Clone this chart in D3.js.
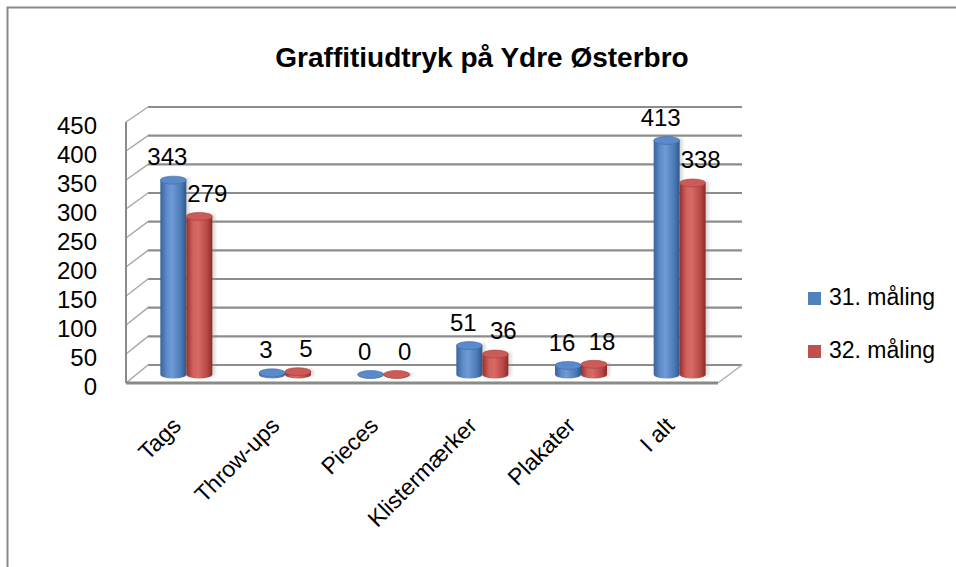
<!DOCTYPE html>
<html>
<head>
<meta charset="utf-8">
<script src="https://cdn.jsdelivr.net/npm/d3@7"></script>
<style>
  body { margin: 0; background: #fff; }
  svg { display: block; font-family: "Liberation Sans", Arial, sans-serif; }
</style>
</head>
<body>
<svg id="chart"></svg>
<script>
// data
const categories = ["Tags", "Throw-ups", "Pieces", "Klistermærker", "Plakater", "I alt"];
const seriesNames = ["31. måling", "32. måling"];
const values31 = [343, 3, 0, 51, 16, 413];
const values32 = [279, 5, 0, 36, 18, 338];
const yTicks = [0, 50, 100, 150, 200, 250, 300, 350, 400, 450];
const colors = ["#4f81bd", "#c0504d"];

const W = 956, H = 567;
const svg = d3.select("#chart").attr("width", W).attr("height", H);

// chart frame (only left and top are visible)
svg.append("path")
  .attr("d", `M7.5,${H} V7.5 H${W}`)
  .attr("fill", "none").attr("stroke", "#8a8a8a").attr("stroke-width", 2);

// 3d box: front plane, back plane and a mid plane for the bars
const depth = { dx: 22, dy: -18 };
const front = { left: 126, right: 718 };
const yFront = d3.scaleLinear().domain([0, 450]).range([383, 122]);
const yBack = d3.scaleLinear().domain([0, 450]).range([365, 107]);
const yBar = d3.scaleLinear().domain([0, 450]).range([374.5, 119.5]);

const x = d3.scaleBand().domain(categories).range([front.left, front.right]);
const xSeries = d3.scaleBand().domain(seriesNames).range([-26, 26]);

// back wall gridlines
svg.append("g").selectAll("line")
  .data(yTicks).enter().append("line")
  .attr("x1", front.left + depth.dx).attr("x2", front.right + depth.dx + 2)
  .attr("y1", d => yBack(d)).attr("y2", d => yBack(d))
  .attr("stroke", "#8c8c8c").attr("stroke-width", 2.2);

// side wall ticks
svg.append("g").selectAll("line")
  .data(yTicks).enter().append("line")
  .attr("x1", front.left).attr("y1", d => yFront(d))
  .attr("x2", front.left + depth.dx).attr("y2", d => yBack(d))
  .attr("stroke", "#a8a8a8").attr("stroke-width", 1.5);

// front vertical edge
svg.append("line")
  .attr("x1", front.left).attr("x2", front.left)
  .attr("y1", yFront(450)).attr("y2", yFront(0))
  .attr("stroke", "#8a8a8a").attr("stroke-width", 2);

// floor right edge + front edge
svg.append("line")
  .attr("x1", front.right).attr("y1", yFront(0))
  .attr("x2", front.right + depth.dx + 2).attr("y2", yBack(0))
  .attr("stroke", "#b0b0b0").attr("stroke-width", 1.5);
svg.append("line")
  .attr("x1", front.left).attr("x2", front.right)
  .attr("y1", yFront(0)).attr("y2", yFront(0))
  .attr("stroke", "#8a8a8a").attr("stroke-width", 3);

// y axis labels
const yAxis = d3.axisLeft(yFront).tickValues(yTicks).tickSize(0).tickPadding(0);
const gy = svg.append("g").attr("transform", "translate(97,4)").call(yAxis);
gy.select(".domain").remove();
gy.selectAll("text").attr("font-size", 24).attr("fill", "#000")
  .attr("font-family", "Liberation Sans, Arial, sans-serif");

// gradients for the cylinders
const defs = svg.append("defs");
const gradStops = [
  ["#3a6399", "#5d8dcb", "#6d9bd6", "#4a79b5", "#2f5788"],
  ["#94302e", "#d0605c", "#d86b67", "#b84845", "#8a2b29"]
];
gradStops.forEach((stops, i) => {
  const g = defs.append("linearGradient").attr("id", "cyl" + i)
    .attr("x1", "0%").attr("x2", "100%").attr("y1", "0%").attr("y2", "0%");
  [0, 25, 45, 80, 100].forEach((o, j) => g.append("stop").attr("offset", o + "%").attr("stop-color", stops[j]));
});
defs.append("filter").attr("id", "blur").append("feGaussianBlur").attr("stdDeviation", 1.5);

const rows = categories.map((c, i) => ({ cat: c, vals: [values31[i], values32[i]] }));
const bars = [];
rows.forEach(r => r.vals.forEach((v, s) => bars.push({ cat: r.cat, s, v })));

const bw = xSeries.bandwidth();
const ry = 4;
const barG = svg.append("g");
const cyl = barG.selectAll(".cyl").data(bars).enter().append("g").attr("class", "cyl");

const cx = d => x(d.cat) + x.bandwidth() / 2 + depth.dx / 2 + xSeries(seriesNames[d.s]) + bw / 2;

// soft shadow
cyl.append("rect")
  .attr("x", d => cx(d) - bw / 2 + 3)
  .attr("y", d => yBar(d.v) - 2)
  .attr("width", bw)
  .attr("height", d => yBar(0) - yBar(d.v) + 4)
  .attr("fill", "#999").attr("opacity", 0.35).attr("filter", "url(#blur)");

// body with rounded bottom
cyl.append("path")
  .attr("d", d => {
    const l = cx(d) - bw / 2, r = cx(d) + bw / 2;
    const t = yBar(d.v), b = yBar(0);
    return `M${l},${t} L${l},${b} A${bw / 2},${ry} 0 0 0 ${r},${b} L${r},${t} Z`;
  })
  .attr("fill", d => `url(#cyl${d.s})`);

// top cap
cyl.append("ellipse")
  .attr("cx", cx)
  .attr("cy", d => yBar(d.v))
  .attr("rx", bw / 2).attr("ry", ry)
  .attr("fill", d => d.s === 0 ? "#5a8acb" : "#cc5a56")
  .attr("stroke", d => d.s === 0 ? "#3f6aa3" : "#a33f3c").attr("stroke-width", 0.6);

// data labels
svg.append("g").selectAll("text")
  .data(bars).enter().append("text")
  .attr("x", d => cx(d) + (d.s === 0 ? -6 : 8))
  .attr("y", d => yBar(d.v) - 21)
  .attr("text-anchor", "middle")
  .attr("dominant-baseline", "middle")
  .attr("font-size", 24)
  .text(d => d.v);

// category labels
svg.append("g").selectAll("text")
  .data(categories).enter().append("text")
  .attr("transform", d => `translate(${x(d) + x.bandwidth() / 2 + 7},427) rotate(-45)`)
  .attr("text-anchor", "end")
  .attr("font-size", 23)
  .text(d => d);

// title
svg.append("text")
  .attr("x", 482).attr("y", 67)
  .attr("text-anchor", "middle")
  .attr("font-weight", "bold")
  .attr("font-size", 28)
  .text("Graffitiudtryk på Ydre Østerbro");

// legend
const legend = svg.append("g").selectAll("g")
  .data(seriesNames).enter().append("g")
  .attr("transform", (d, i) => `translate(808,${292 + i * 53})`);
legend.append("rect").attr("width", 13).attr("height", 13).attr("fill", (d, i) => colors[i]);
legend.append("text").attr("x", 21).attr("y", 7).attr("dominant-baseline", "middle")
  .attr("font-size", 23).text(d => d);
</script>
</body>
</html>
